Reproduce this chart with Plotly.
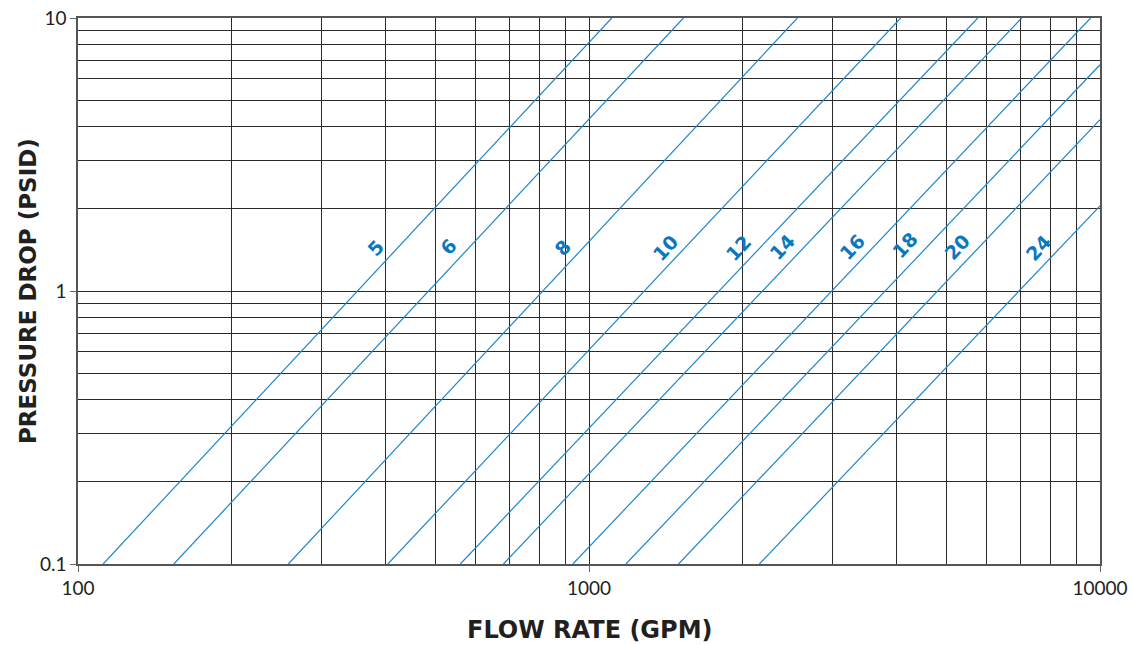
import numpy as np
import plotly.graph_objects as go

# Line size labels
sizes = ["5", "6", "8", "10", "12", "14", "16", "18", "20", "24"]
# Start (at bottom edge) and end points of each line
flow_start = [112, 154, 258, 404, 560, 680, 930, 1181, 1497, 2155]
press_start = [0.1] * 10
flow_end = [1108, 1530, 2557, 4074, 5765, 7026, 9585, 10000, 10000, 10000]
press_end = [10, 10, 10, 10, 10, 10, 10, 6.74, 4.24, 2.05]
# Label positions
label_flow = [382, 530, 886, 1409, 1958, 2387, 3272, 4155, 5252, 7560]
label_press = [1.44, 1.45, 1.44, 1.44, 1.44, 1.45, 1.45, 1.47, 1.45, 1.44]

x_ticks = [100, 1000, 10000]
x_ticktext = ["100", "1000", "10000"]
y_ticks = [0.1, 1, 10]
y_ticktext = ["0.1", "1", "10"]
x_minor = [m * d for d in (100, 1000) for m in range(2, 10)]
y_minor = [m * d for d in (0.1, 1) for m in range(2, 10)]
x_title = "FLOW RATE (GPM)"
y_title = "PRESSURE DROP (PSID)"

LINE = "#1f86c9"
TEXT_BLUE = "#0a78bf"
GRID = "#2a2a2a"
TICK_FONT = "Lato"
BOLD_FONT = "DejaVu Sans"

fig = go.Figure()
for i, s in enumerate(sizes):
    fig.add_trace(go.Scatter(
        x=[flow_start[i], flow_end[i]], y=[press_start[i], press_end[i]],
        mode="lines", line=dict(color=LINE, width=1.2),
        showlegend=False, hoverinfo="skip"))
    fig.add_annotation(
        x=np.log10(label_flow[i]), y=np.log10(label_press[i]),
        xref="x", yref="y", text="<b>%s</b>" % s, showarrow=False,
        textangle=-47, font=dict(family=BOLD_FONT, size=19, color=TEXT_BLUE))

axis_common = dict(
    type="log", showline=True, linecolor="#555", linewidth=1.5, mirror=True,
    showgrid=True, gridcolor=GRID, gridwidth=1, automargin=False,
    ticks="outside", ticklen=6, tickcolor="#666",
    tickfont=dict(family=TICK_FONT, size=19, color="#231f20"),
    zeroline=False,
)

fig.update_xaxes(
    **axis_common, range=[2, 4], tickvals=x_ticks, ticktext=x_ticktext,
    minor=dict(tickvals=x_minor, showgrid=True, gridcolor=GRID, gridwidth=1, ticks=""),
)
fig.update_yaxes(
    **axis_common, range=[-1, 1], tickvals=y_ticks, ticktext=y_ticktext,
    minor=dict(tickvals=y_minor, showgrid=True, gridcolor=GRID, gridwidth=1, ticks=""),
)

# Axis titles
fig.add_annotation(
    x=0.5, y=0, xref="paper", yref="paper", yshift=-66, showarrow=False,
    xanchor="center", yanchor="middle",
    text="<b>%s</b>" % x_title,
    font=dict(family=BOLD_FONT, size=24, color="#231f20"))
fig.add_annotation(
    x=0, y=0.5, xref="paper", yref="paper", xshift=-50, showarrow=False,
    xanchor="center", yanchor="middle",
    text="<b>%s</b>" % y_title, textangle=-90,
    font=dict(family=BOLD_FONT, size=23, color="#231f20"))

fig.update_layout(
    width=1132, height=645,
    margin=dict(l=78, r=32, t=18, b=81),
    plot_bgcolor="white", paper_bgcolor="white",
)

fig.write_html("out.html", config={"displayModeBar": False},
               post_script="document.body.style.margin='0';document.body.style.overflow='hidden';")
